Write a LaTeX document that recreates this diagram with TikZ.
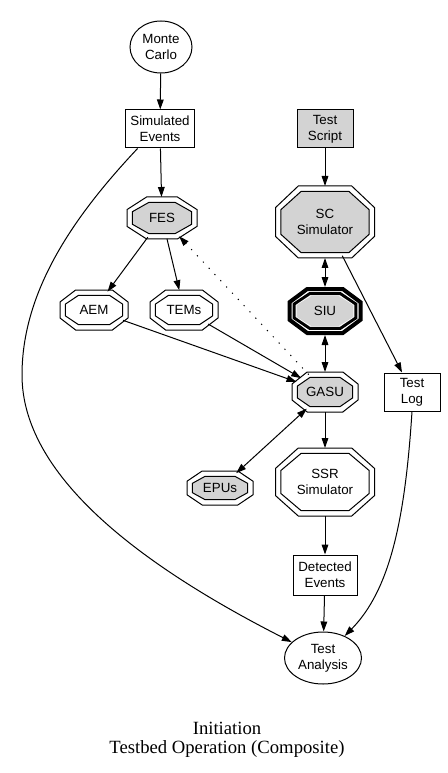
\documentclass[tikz,border=0pt]{standalone}
\usepackage{fontspec}
\setmainfont{Liberation Serif}
\newfontfamily\gvsans{Liberation Sans}
\usetikzlibrary{arrows.meta,calc,backgrounds,shapes.geometric}
\definecolor{gvgray}{RGB}{211,211,211}
% \gvoct[horizontal cut fraction]{node}{inset}{path options}
\newcommand\gvoct[4][0.23]{%
  \path[#4] let \p1=(#2.west), \p2=(#2.east), \p3=(#2.north), \p4=(#2.south),
    \n1={\x1+#3}, \n2={\x2-#3}, \n3={\y4+#3}, \n4={\y3-#3},
    \n5={#1*(\n2-\n1)}, \n6={0.3*(\n4-\n3)} in
    (\n1+\n5,\n4) -- (\n2-\n5,\n4) -- (\n2,\n4-\n6) -- (\n2,\n3+\n6) --
    (\n2-\n5,\n3) -- (\n1+\n5,\n3) -- (\n1,\n3+\n6) -- (\n1,\n4-\n6) -- cycle;}
\tikzset{
  every node/.style={font=\gvsans\fontsize{10}{12}\selectfont, align=center, inner sep=0pt},
  gvbox/.style 2 args={draw, line width=0.75pt, minimum width=#1*0.75pt, minimum height=#2*0.75pt},
  gvell/.style 2 args={ellipse, draw, line width=0.75pt, minimum width=#1*0.75pt, minimum height=#2*0.75pt},
  gvoctn/.style 2 args={ellipse, outer sep=0pt, minimum width=#1*0.75pt, minimum height=#2*0.75pt},
  octline/.style={draw, line width=0.75pt, fill=white},
  octfill/.style={draw, line width=0.75pt, fill=gvgray},
  edge/.style={line width=0.75pt},
  dotpat/.style={dash pattern=on 0.9pt off 5.5pt},
  >={Triangle[length=7.5pt,width=5pt]}
}
\begin{document}
\begin{tikzpicture}[x=0.75pt,y=-0.75pt]
\useasboundingbox (0,0) rectangle (448,773);
% nodes
\node[gvell={62}{52}] (mc) at (161,47) {Monte\\Carlo};
\node[gvbox={69}{38}] (se) at (160,129) {Simulated\\Events};
\node[gvbox={56}{38}, fill=gvgray] (ts) at (325,129) {Test\\Script};
\node[gvoctn={70}{42}] (fes) at (162,218) {FES};
\node[gvoctn={99}{72}] (sc) at (325,222) {SC\\Simulator};
\node[gvoctn={75}{48}] (siu) at (325,311) {SIU};
\node[gvoctn={68}{40}] (aem) at (94,310) {AEM};
\node[gvoctn={68}{40}] (tems) at (184,310) {TEMs};
\node[gvoctn={66}{40}] (gasu) at (325,392) {GASU};
\node[gvbox={56}{38}] (tlog) at (412,392) {Test\\Log};
\node[gvoctn={66}{34}] (epus) at (220,488) {EPUs};
\node[gvoctn={99}{68}] (ssr) at (325,482) {SSR\\Simulator};
\node[gvbox={64}{40}] (de) at (325,575) {Detected\\Events};
\node[gvell={77}{52}] (ta) at (323,658) {Test\\Analysis};
\node[font=\rmfamily\fontsize{14}{14.3}\selectfont] (cap) at (227,740) {Initiation\\Testbed Operation (Composite)};
% octagon outlines
\begin{pgfonlayer}{background}
  \gvoct[0.28]{fes}{0pt}{octline}  \gvoct[0.28]{fes}{4pt}{octfill}
  \gvoct{sc}{0pt}{octline}   \gvoct{sc}{4pt}{octfill}
  \gvoct{aem}{0pt}{octline}  \gvoct{aem}{4pt}{octline}
  \gvoct{tems}{0pt}{octline} \gvoct{tems}{4pt}{octline}
  \gvoct{gasu}{0pt}{octline} \gvoct{gasu}{4pt}{octfill}
  \gvoct{epus}{0pt}{octline} \gvoct{epus}{4pt}{octfill}
  \gvoct{ssr}{0pt}{octline}  \gvoct{ssr}{4pt}{octline}
  \gvoct[0.25]{siu}{1.5pt}{draw, line width=3pt, fill=white}
  \gvoct[0.25]{siu}{5pt}{draw, line width=2.2pt, fill=white}
  \gvoct[0.25]{siu}{6.9pt}{fill=gvgray}
\end{pgfonlayer}
% edges
\draw[edge,->] (mc) -- (se);
\draw[edge,->] (se) -- (fes);
\draw[edge,->] (se.-139) .. controls (75,215) and (22,290) .. (22,375)
   .. controls (22,480) and (150,570) .. (ta);
\draw[edge,->] (fes) -- (aem);
\draw[edge,->] (fes) -- (tems);
\draw[edge,->] (aem) -- (gasu);
\draw[edge,->] (tems) -- (gasu);
\draw[edge,dotpat,->] (gasu) -- (fes);
\draw[edge,->] (ts) -- (sc);
\draw[edge,<->] (sc) -- (siu);
\draw[edge,<->] (siu) -- (gasu);
\draw[edge,->] (sc) -- (tlog);
\draw[edge,<->] (gasu) -- (epus);
\draw[edge,->] (gasu) -- (ssr);
\draw[edge,->] (ssr) -- (de);
\draw[edge,->] (de) -- (ta);
\draw[edge,->] (tlog.south) .. controls (405,520) and (390,590) .. (ta);
\end{tikzpicture}
\end{document}
